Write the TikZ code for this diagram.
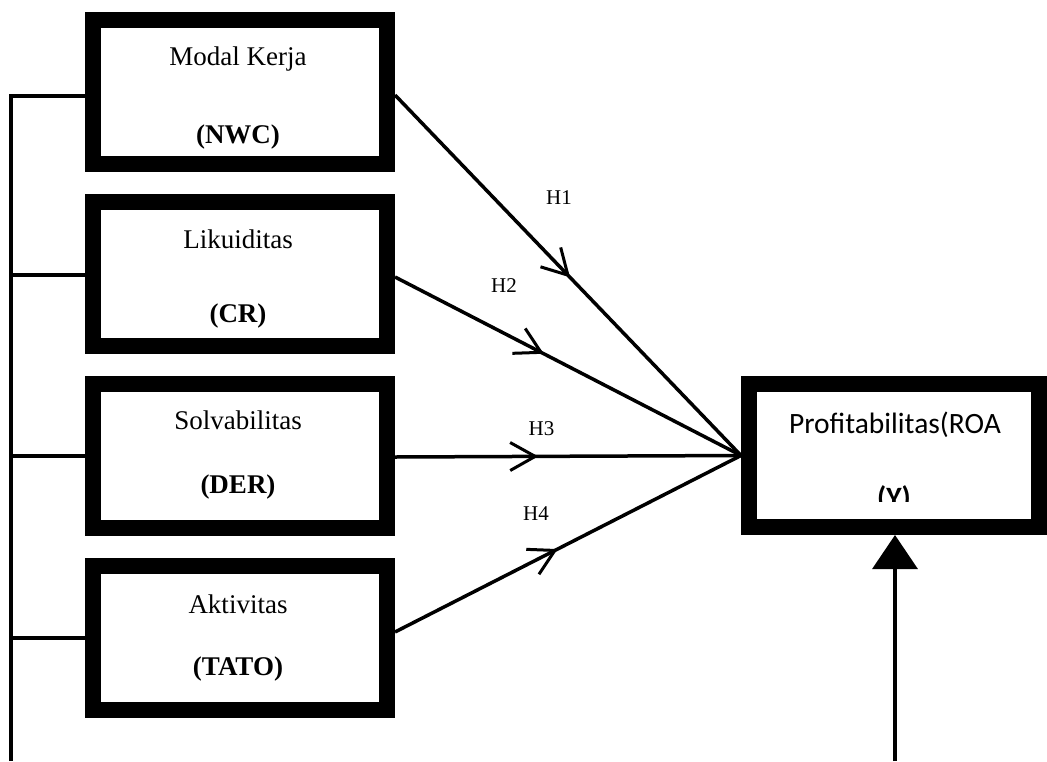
\documentclass[tikz,border=0pt]{standalone}
\usepackage{fontspec}
\setmainfont{Liberation Serif}
\newfontfamily\calibri{Carlito}
\usetikzlibrary{arrows.meta,decorations.markings}
\begin{document}
\begin{tikzpicture}[x=1pt,y=-1pt,
  varbox/.style={draw=black, fill=white, line width=16pt, minimum width=294pt, minimum height=144pt, inner sep=0pt},
  conn/.style={line width=3.5pt},
  midarrow/.style={postaction={decorate},decoration={markings,mark=at position #1 with {\arrow{Straight Barb[length=25pt,width=28pt,line width=3pt]}}}},
  ttl/.style={anchor=base, font=\fontsize{27}{30}\selectfont},
  code/.style={anchor=base, font=\fontsize{27}{30}\selectfont\bfseries},
  hlab/.style={anchor=base, font=\fontsize{21}{24}\selectfont},
]
\useasboundingbox (0,0) rectangle (1047,761);

% boxes
\node[varbox] (nwc) at (240,92) {};
\node[varbox] (cr) at (240,273.5) {};
\node[varbox] (der) at (240,456) {};
\node[varbox] (tato) at (240,637.5) {};
\node[varbox, minimum width=290pt, minimum height=143pt] (yy) at (894,455.5) {};

% box texts
\node[ttl] (t1) at (238,65) {Modal Kerja};
\node[code] (c1) at (238,143) {(NWC)};
\node[ttl] (t2) at (238,248) {Likuiditas};
\node[code] (c2) at (238,322) {(CR)};
\node[ttl] (t3) at (238,429) {Solvabilitas};
\node[code] (c3) at (238,493) {(DER)};
\node[ttl] (t4) at (238,613) {Aktivitas};
\node[code] (c4) at (238,675) {(TATO)};
\node[anchor=base, font=\calibri\fontsize{29.5}{32}\selectfont] (ty) at (895,433) {Profitabilitas(ROA};
\begin{scope}
  \clip (800,470) rectangle (1000,501);
  \node[anchor=base, font=\calibri\fontsize{29.5}{32}\selectfont\bfseries] (cy) at (894,507) {(Y)};
\end{scope}

% left bus
\coordinate (lb) at (11,761);
\coordinate (b1) at (11,96);
\coordinate (b2) at (11,275);
\coordinate (b3) at (11,456);
\coordinate (b4) at (11,638);
\draw[conn, line width=4pt] (lb) -- ([yshift=2pt]b1) -- (b1) -- (b1 -| nwc.west);
\draw[conn] (b2) -- (b2 -| cr.west);
\draw[conn] (b3) -- (b3 -| der.west);
\draw[conn] (b4) -- (b4 -| tato.west);

% hypothesis connectors
\draw[conn, midarrow=0.506] ([yshift=-3pt]nwc.east) -- (yy.west);
\draw[conn, midarrow=0.43] ([yshift=-3.5pt]cr.east) -- (yy.west);
\draw[conn, midarrow=0.414] ([yshift=-1pt]der.east) -- (yy.west);
\draw[conn, midarrow=0.47] ([yshift=5.5pt]tato.east) -- (yy.west);

% labels
\node[hlab] (h1) at (559,204) {H1};
\node[hlab] (h2) at (504,292) {H2};
\node[hlab] (h3) at (541.5,435) {H3};
\node[hlab] (h4) at (536,520) {H4};

% arrow into Y
\coordinate (yb) at (895,761);
\draw[conn, -{Triangle[length=34pt,width=45pt]}] (yb) -- (yb |- yy.south);
\end{tikzpicture}
\end{document}
